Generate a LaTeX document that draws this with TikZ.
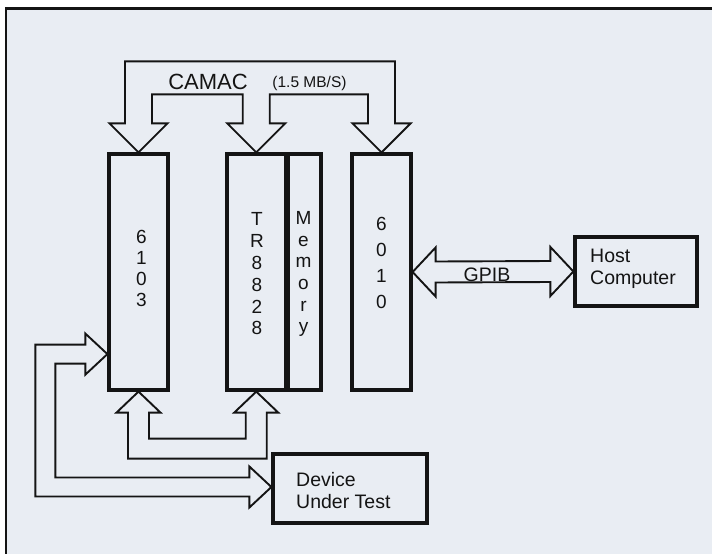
\documentclass[tikz,border=0pt]{standalone}
\usepackage{fontspec}
\setmainfont{Liberation Sans}
\usetikzlibrary{calc}
\definecolor{paper}{RGB}{233,237,243}
\definecolor{ink}{RGB}{20,20,20}
\tikzset{
  boxnode/.style={draw=ink, line width=3.2pt, inner sep=0pt},
  hollow/.style={draw=ink, line width=1.9pt, line join=miter},
  vtext/.style={align=center, inner sep=0pt, text=ink},
  ltext/.style={align=left, inner sep=0pt, anchor=west, text=ink,
    font=\fontsize{19.5}{22}\selectfont},
}
\begin{document}
\begin{tikzpicture}[x=1pt,y=-1pt]
\useasboundingbox (0,0) rectangle (712,554);
% paper and frame
\fill[paper] (5,8) rectangle (712,554);
\draw[ink, line width=2.6pt] (6,554) -- (6,8.5) -- (712,8.5);

% boxes
\node[boxnode, minimum width=59pt, minimum height=236pt] (a) at (138.5,272) {};
\node[boxnode, minimum width=58.5pt, minimum height=236pt] (tr) at (256.25,272) {};
\node[boxnode, minimum width=33pt, minimum height=236pt] (mem) at (304.5,272) {};
\node[boxnode, minimum width=59pt, minimum height=236pt] (c) at (381.5,272) {};
\node[boxnode, minimum width=122pt, minimum height=69pt] (h) at (636,271.5) {};
\node[boxnode, minimum width=154pt, minimum height=69pt] (d) at (350,488.5) {};

% box texts
\node[vtext, font=\fontsize{19}{21}\selectfont] (t6103) at (141.5,268.5) {6\\1\\0\\3};
\node[vtext, font=\fontsize{19}{21.8}\selectfont] (ttr) at (257,274) {T\\R\\8\\8\\2\\8};
\node[vtext, font=\fontsize{19}{21.7}\selectfont] (tmem) at (303.5,274) {M\\e\\m\\o\\r\\y};
\node[vtext, font=\fontsize{19}{26}\selectfont] (t6010) at (381.5,263) {6\\0\\1\\0};
\node[ltext] (th) at (590,269) {Host\\Computer};
\node[ltext] (td) at (296,490.5) {Device\\Under Test};

% CAMAC bus
\draw[hollow]
  ($(a.north)+(-13.5,-29)$) -- ($(a.north)+(-13.5,-91)$) -- ($(c.north)+(13.5,-91)$)
  -- ($(c.north)+(13.5,-29)$) -- ($(c.north)+(29,-29)$) -- (c.north)
  -- ($(c.north)+(-29,-29)$) -- ($(c.north)+(-13.5,-29)$) -- ($(c.north)+(-13.5,-58)$)
  -- ($(tr.north)+(13.5,-58)$) -- ($(tr.north)+(13.5,-29)$) -- ($(tr.north)+(29,-29)$)
  -- (tr.north) -- ($(tr.north)+(-29,-29)$) -- ($(tr.north)+(-13.5,-29)$)
  -- ($(tr.north)+(-13.5,-58)$) -- ($(a.north)+(13.5,-58)$) -- ($(a.north)+(13.5,-29)$)
  -- ($(a.north)+(29,-29)$) -- (a.north) -- ($(a.north)+(-29,-29)$) -- cycle;
\node[text=ink, inner sep=0pt, font=\fontsize{22}{24}\selectfont] (camac) at (208,82) {CAMAC};
\node[text=ink, inner sep=0pt, font=\fontsize{15.5}{17}\selectfont] (rate) at (309.5,83) {(1.5 MB/S)};

% 6103 <-> TR8828 bottom bus
\draw[hollow]
  (a.south) -- ($(a.south)+(22,21)$) -- ($(a.south)+(10.5,21)$) -- ($(a.south)+(10.5,47)$)
  -- ($(tr.south)+(-10.5,47)$) -- ($(tr.south)+(-10.5,21)$) -- ($(tr.south)+(-22,21)$)
  -- (tr.south) -- ($(tr.south)+(22,21)$) -- ($(tr.south)+(10.5,21)$)
  -- ($(tr.south)+(10.5,67)$) -- ($(a.south)+(-10.5,67)$) -- ($(a.south)+(-10.5,21)$)
  -- ($(a.south)+(-22,21)$) -- cycle;

% 6103 <-> Device Under Test
\coordinate (p1) at ($(a.south west)+(0,-37.5)$);
\coordinate (p2) at ($(d.west)+(0,-1.5)$);
\draw[hollow]
  (p1) -- ($(p1)+(-22,-20.5)$) -- ($(p1)+(-22,-9.5)$) -- ($(p1)+(-72,-9.5)$)
  -- ($(p2)+(-236,9.5)$) -- ($(p2)+(-22,9.5)$) -- ($(p2)+(-22,20.5)$) -- (p2)
  -- ($(p2)+(-22,-20.5)$) -- ($(p2)+(-22,-9.5)$) -- ($(p2)+(-216,-9.5)$)
  -- ($(p1)+(-52,9.5)$) -- ($(p1)+(-22,9.5)$) -- ($(p1)+(-22,20.5)$) -- cycle;

% GPIB
\draw[hollow]
  (c.east) -- ($(c.east)+(23,-24.5)$) -- ($(c.east)+(23,-10.5)$) -- ($(h.west)+(-23,-10.5)$)
  -- ($(h.west)+(-23,-24.5)$) -- (h.west) -- ($(h.west)+(-23,24.5)$) -- ($(h.west)+(-23,10.5)$)
  -- ($(c.east)+(23,10.5)$) -- ($(c.east)+(23,24.5)$) -- cycle;
\node[text=ink, inner sep=0pt, font=\fontsize{19.5}{21}\selectfont] (gpib) at (487,275) {GPIB};
\end{tikzpicture}
\end{document}
